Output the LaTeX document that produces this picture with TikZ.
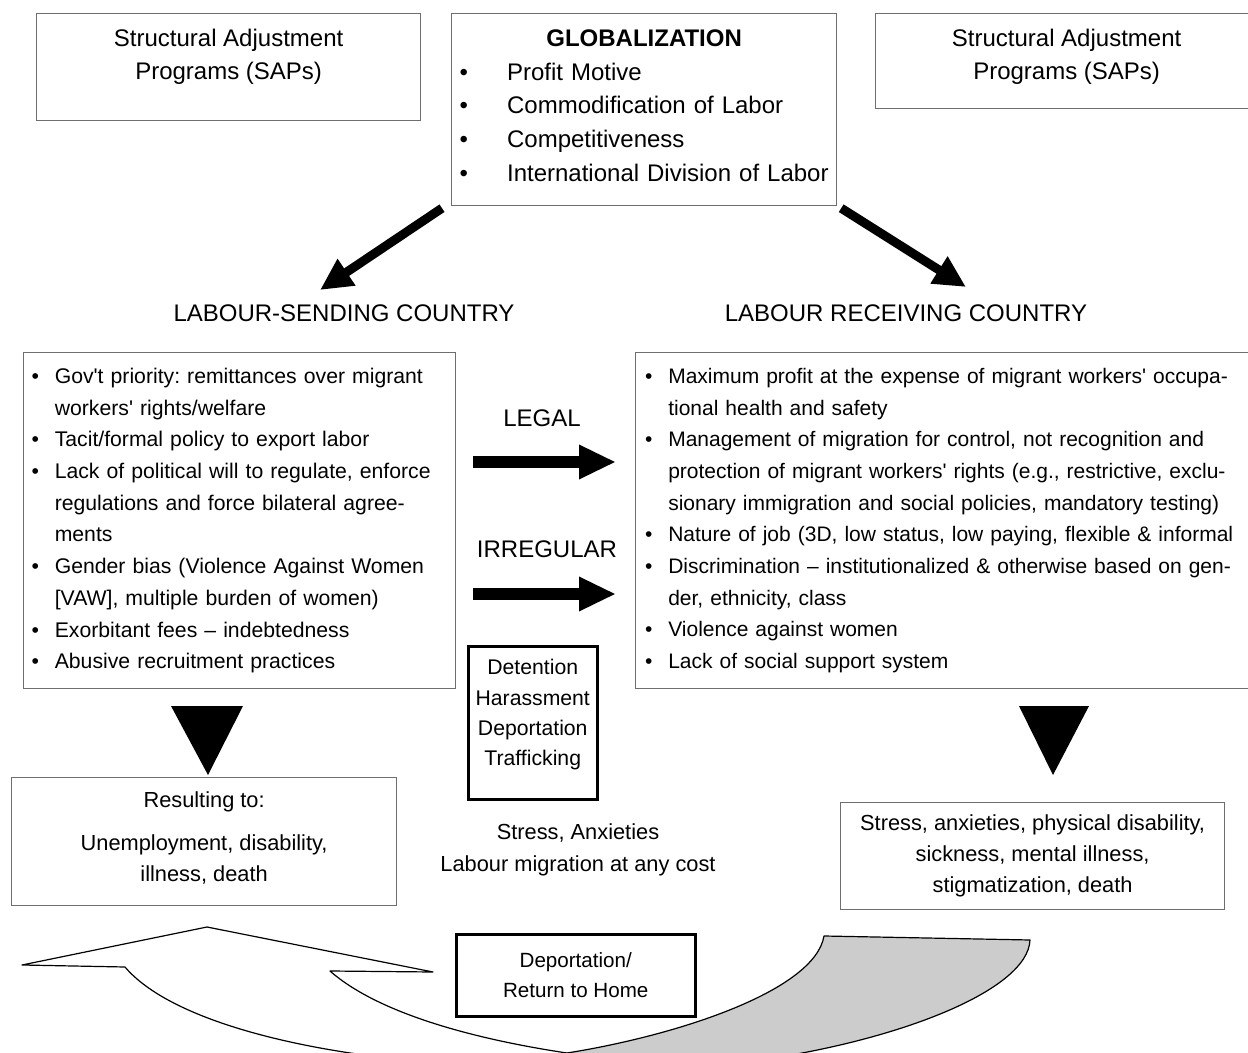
\documentclass[tikz,border=0pt]{standalone}
\usepackage{fontspec}
\setmainfont{Liberation Sans}
\usetikzlibrary{arrows.meta}
\definecolor{BoxLine}{HTML}{6E6E6E}
\definecolor{BackGray}{HTML}{CCCCCC}
\frenchspacing
\newcommand{\bigtxt}{\fontsize{12pt}{16.5pt}\selectfont}
\newcommand{\listtxt}{\fontsize{10.6pt}{15.85pt}\selectfont}
\newcommand{\lbul}{\makebox[11.6pt][l]{\textbullet}}
\newcommand{\lind}{\hspace*{11.6pt}}
\newcommand{\gbul}{\hspace*{2.75pt}\makebox[23.75pt][l]{\textbullet}}
\newcommand{\apos}{\textquotesingle}
\tikzset{
  greybox/.style={draw=BoxLine, line width=0.6pt, inner sep=0pt},
  blackbox/.style={draw=black, line width=1.25pt, fill=white, inner sep=0pt},
  slantarrow/.style={line width=4.5pt, -{Triangle[length=16pt,width=15pt]}},
  flowarrow/.style={line width=6pt, -{Triangle[length=18.5pt,width=16pt]}},
  bandline/.style={draw=black, line width=0.6pt, line join=round}
}

\begin{document}
\begin{tikzpicture}[x=0.5pt,y=-0.5pt]
\useasboundingbox (0,0) rectangle (1248,1053);
% top row
\node[greybox, anchor=north west, minimum width=192pt, minimum height=53.5pt,
  align=center, font=\bigtxt, text depth=12.5pt] (sapL) at (36,13)
  {Structural Adjustment\\Programs (SAPs)};
\node[greybox, anchor=north west, minimum width=191pt, minimum height=47.5pt,
  align=center, font=\bigtxt, text depth=6.5pt] (sapR) at (875,13)
  {Structural Adjustment\\Programs (SAPs)};
\node[greybox, anchor=north west, minimum width=192.5pt, minimum height=96pt,
  text width=190pt, align=left, font=\fontsize{12pt}{16.9pt}\selectfont,
  text depth=71.6pt] (glob) at (451,13)
  {\makebox[190pt]{\textbf{GLOBALIZATION}}\\
   \gbul Profit Motive\\
   \gbul Commodification of Labor\\
   \gbul Competitiveness\\
   \gbul International Division of Labor};
% the two countries
\coordinate (sendTip) at (320,290);
\coordinate (recvTip) at (966,287);
\draw[slantarrow] ([shift={(-9,2)}]glob.south west) -- (sendTip);
\draw[slantarrow] ([shift={(4,2)}]glob.south east) -- (recvTip);
\node[font=\bigtxt] (sendLbl) at (344,313) {LABOUR-SENDING COUNTRY};
\node[font=\bigtxt] (recvLbl) at (906,313) {LABOUR RECEIVING COUNTRY};
\node[greybox, anchor=north west, minimum width=216pt, minimum height=168pt,
  text width=208pt, align=left, font=\listtxt] (send) at (23,352)
  {\lbul Gov\apos t priority: remittances over migrant\\
   \lind workers\apos\ rights/welfare\\
   \lbul Tacit/formal policy to export labor\\
   \lbul Lack of political will to regulate, enforce\\
   \lind regulations and force bilateral agree-\\
   \lind ments\\
   \lbul Gender bias (Violence Against Women\\
   \lind [VAW], multiple burden of women)\\
   \lbul Exorbitant fees -- indebtedness\\
   \lbul Abusive recruitment practices};
\node[greybox, anchor=north west, minimum width=320pt, minimum height=168pt,
  text width=310.5pt, align=left, font=\fontsize{10.5pt}{15.85pt}\selectfont] (recv) at (635,352)
  {\lbul Maximum profit at the expense of migrant workers\apos\ occupa-\\
   \lind tional health and safety\\
   \lbul Management of migration for control, not recognition and\\
   \lind protection of migrant workers\apos\ rights (e.g., restrictive, exclu-\\
   \lind sionary immigration and social policies, mandatory testing)\\
   \lbul Nature of job (3D, low status, low paying, flexible \& informal\\
   \lbul Discrimination -- institutionalized \& otherwise based on gen-\\
   \lind der, ethnicity, class\\
   \lbul Violence against women\\
   \lbul Lack of social support system};
% legal / irregular flows
\node[font=\bigtxt] (legal) at (542,418) {LEGAL};
\node[font=\bigtxt] (irreg) at (547,549) {IRREGULAR};
\coordinate (legalA) at (473,462);
\coordinate (legalB) at (616,462);
\coordinate (irregA) at (473,594);
\coordinate (irregB) at (616,594);
\draw[flowarrow] (legalA) -- (legalB);
\draw[flowarrow] (irregA) -- (irregB);
\node[blackbox, anchor=north west, minimum width=64.5pt, minimum height=76.5pt,
  align=center, font=\fontsize{10.6pt}{15.2pt}\selectfont, text depth=10.2pt] (risk) at (467,645)
  {Detention\\Harassment\\Deportation\\Trafficking};
% outcomes
\fill (171,706) -- (243,706) -- (208,775) -- cycle;
\fill (1019,706) -- (1089,706) -- (1053,775) -- cycle;
\node[greybox, anchor=north west, minimum width=192.5pt, minimum height=64pt,
  align=center, font=\fontsize{10.9pt}{15.5pt}\selectfont, text depth=5.5pt] (resL) at (11,777)
  {Resulting to:\\[6pt]Unemployment, disability,\\illness, death};
\node[align=center, font=\fontsize{10.9pt}{16pt}\selectfont] (stress) at (578,850)
  {Stress, Anxieties\\Labour migration at any cost};
\node[greybox, anchor=north west, minimum width=192pt, minimum height=53.5pt,
  align=center, font=\fontsize{10.9pt}{15.5pt}\selectfont] (resR) at (840,802)
  {Stress, anxieties, physical disability,\\sickness, mental illness,\\stigmatization, death};
% return band
\begin{scope}
\clip (0,0) rectangle (1248,1053);
\path[bandline, fill=white] (22,965) -- (207,927) -- (433,972) -- (330,971)
  .. controls (380,1015) and (480,1040) .. (567,1053) -- (567,1062) -- (430,1062)
  .. controls (300,1052) and (170,1020) .. (125,967) -- cycle;
\path[bandline, fill=BackGray] (567,1053) .. controls (680,1035) and (815,990) .. (824,936)
  -- (1030,940) .. controls (1028,990) and (900,1040) .. (760,1060) -- (567,1062) -- cycle;
\end{scope}
\node[blackbox, anchor=north west, minimum width=119.5pt, minimum height=41pt,
  align=center, font=\fontsize{10.3pt}{15pt}\selectfont] (home) at (455,933)
  {Deportation/\\Return to Home};
\end{tikzpicture}
\end{document}
